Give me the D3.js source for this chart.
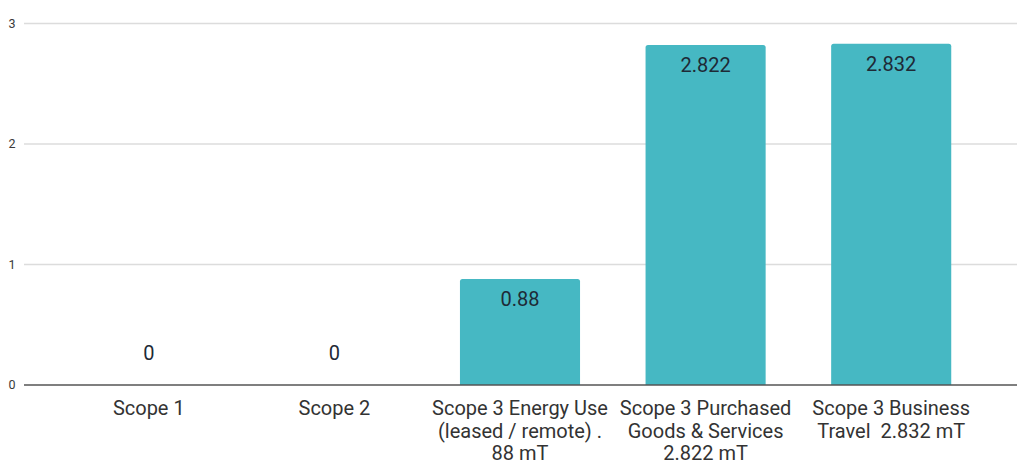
<!DOCTYPE html>
<html>
<head>
<meta charset="utf-8">
<script src="https://cdn.jsdelivr.net/npm/d3@7"></script>
<style>
  html, body { margin: 0; padding: 0; background: #ffffff; }
  svg { display: block; font-family: Roboto, "Noto Sans", sans-serif; }
</style>
</head>
<body>
<svg id="chart" width="1024" height="462"></svg>
<script>
const categories = ["Scope 1", "Scope 2", "Scope 3 Energy Use", "Scope 3 Purchased", "Scope 3 Business"];
const categoryLines = [
  ["Scope 1"],
  ["Scope 2"],
  ["Scope 3 Energy Use", "(leased / remote) .", "88 mT"],
  ["Scope 3 Purchased", "Goods & Services", "2.822 mT"],
  ["Scope 3 Business", "Travel  2.832 mT"]
];
const values = [0, 0, 0.88, 2.822, 2.832];
const valueLabels = ["0", "0", "0.88", "2.822", "2.832"];
const yTicks = [0, 1, 2, 3];

const svg = d3.select("#chart");

const x = d3.scaleBand()
  .domain(categories)
  .range([56, 984])
  .paddingInner(0.353)
  .paddingOuter(0.1765);

const y = d3.scaleLinear().domain([0, 3]).range([385, 23.5]);

const gridLeft = 24, gridRight = 1017;

// gridlines
svg.append("g").selectAll("line").data(yTicks.filter(d => d !== 0)).join("line")
  .attr("x1", gridLeft).attr("x2", gridRight)
  .attr("y1", d => y(d)).attr("y2", d => y(d))
  .attr("stroke", "#dcdcdc").attr("stroke-width", 1.5);

// y tick labels
svg.append("g").selectAll("text").data(yTicks).join("text")
  .attr("x", 12).attr("y", d => y(d))
  .attr("dy", "0.35em")
  .attr("text-anchor", "middle")
  .attr("font-size", 12.5)
  .attr("fill", "#3a3a3a")
  .text(d => d);

// bars with rounded top corners
const r = 2.5;
function barPath(d, i) {
  const x0 = x(categories[i]), w = x.bandwidth();
  const yt = y(d), yb = y(0);
  if (yb - yt < 0.5) return "";
  return `M${x0},${yb} L${x0},${yt + r} Q${x0},${yt} ${x0 + r},${yt} L${x0 + w - r},${yt} Q${x0 + w},${yt} ${x0 + w},${yt + r} L${x0 + w},${yb} Z`;
}
svg.append("g").selectAll("path").data(values).join("path")
  .attr("d", (d, i) => barPath(d, i))
  .attr("fill", "#46b8c3");

// baseline
svg.append("line")
  .attr("x1", gridLeft).attr("x2", gridRight)
  .attr("y1", y(0)).attr("y2", y(0))
  .attr("stroke", "#555").attr("stroke-width", 1.5);

// value labels
svg.append("g").selectAll("text").data(values).join("text")
  .attr("x", (d, i) => x(categories[i]) + x.bandwidth() / 2)
  .attr("y", d => d === 0 ? y(0) - 32 : y(d) + 20)
  .attr("dy", "0.35em")
  .attr("text-anchor", "middle")
  .attr("font-size", 20)
  .attr("fill", "#1e2a36")
  .text((d, i) => valueLabels[i]);

// category labels
const catG = svg.append("g").selectAll("text").data(categories).join("text")
  .attr("x", d => x(d) + x.bandwidth() / 2)
  .attr("y", 408)
  .attr("text-anchor", "middle")
  .attr("font-size", 20)
  .attr("fill", "#333");
catG.each(function(d, i) {
  const t = d3.select(this);
  categoryLines[i].forEach((line, j) => {
    t.append("tspan")
      .attr("x", x(d) + x.bandwidth() / 2)
      .attr("y", 408 + j * 22.5)
      .attr("dy", "0.35em")
      .style("white-space", "pre")
      .text(line);
  });
});
</script>
</body>
</html>
